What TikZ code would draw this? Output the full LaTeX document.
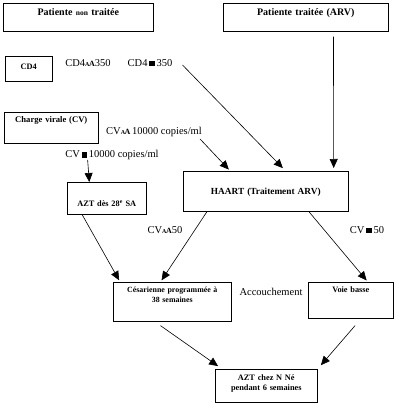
\documentclass[tikz,border=0pt]{standalone}
\usepackage{fontspec}
\setmainfont{Liberation Serif}
\usetikzlibrary{arrows.meta,calc,positioning}
\newcommand{\signehaut}{{\fontsize{6}{6}\selectfont\bfseries A}\kern-0.5pt{\fontsize{8}{8}\selectfont\bfseries A}}
\newcommand{\signecarre}{\,\rule{5.5pt}{5.5pt}\,}

\begin{document}
\begin{tikzpicture}[x=1pt,y=-1pt,
    boite/.style={draw, line width=0.6pt, anchor=north west, inner sep=0pt, align=center,
                  font=\fontsize{8.3}{10}\selectfont\bfseries},
    etiq/.style={inner sep=0pt, font=\fontsize{10.5}{12}\selectfont},
    fleche/.style={line width=0.6pt, -{Triangle[length=9pt,width=8pt]}},
    trait/.style={line width=0.6pt}]
	     \useasboundingbox (0,0) rectangle (400,409);

	     \node[boite, text width=150pt, text height=12.5pt, text depth=15.5pt, font=\fontsize{10}{11}\selectfont\bfseries] (pnt) at (3,3) {Patiente {\fontsize{7.5}{8}\selectfont non} traitée};
	     \node[boite, text width=165pt, text height=12.5pt, text depth=15.5pt, font=\fontsize{10}{11}\selectfont\bfseries] (pt) at (223,3) {Patiente traitée (ARV)};
	     \node[boite, text width=47pt, text height=13pt, text depth=12pt] (cd4) at (5,56) {CD4};
	     \node[boite, text width=94pt, text height=10pt, text depth=21pt, font=\fontsize{8.6}{10}\selectfont\bfseries] (cv) at (4,112) {Charge virale (CV)};
	     \node[boite, text width=79pt, text height=24pt, text depth=8pt] (azt) at (67,182) {AZT dès 28\textsuperscript{e} SA};
	     \node[boite, text width=165pt, text height=23pt, text depth=17pt, font=\fontsize{9.3}{10}\selectfont\bfseries] (haart) at (183,171) {HAART (Traitement ARV)};
	     \node[boite, text width=118pt, text height=10pt, text depth=29pt, font=\fontsize{7.9}{10}\selectfont\bfseries] (ces) at (113,282) {Césarienne programmée à\\38 semaines};
	     \node[boite, text width=85pt, text height=10pt, text depth=26pt] (voie) at (308,282) {Voie basse};
	     \node[boite, text width=102pt, text height=11pt, text depth=22pt] (aztnn) at (215,369) {AZT chez N Né\\pendant 6 semaines};

	     \node[etiq] (cd4a) at (88,63) {CD4\signehaut350};
	     \node[etiq] (cd4b) at (150,63) {CD4\signecarre350};
	     \node[etiq] (cva) at (154,132) {CV\signehaut\,10000 copies/ml};
	     \node[etiq] (cvb) at (112,155) {CV\signecarre10000 copies/ml};
	     \node[etiq] (cva50) at (165,230) {CV\signehaut50};
	     \node[etiq] (cvb50) at (367,230) {CV\signecarre50};
	     \node[etiq] (acc) at (271,292) {Accouchement};

	     \path[fleche]
	       ($(cvb.south west)!0.24!(cvb.south east)$) edge ($(azt.north west)!0.28!(azt.north east)$)
	       ($(cva.south east)+(-2,2)$) edge [shorten >=2pt] ($(haart.north west)!0.285!(haart.north east)$)
	       ($(cd4b.east)+(10,2)$) edge [shorten >=4pt] ($(haart.north west)!0.62!(haart.north east)$)
	       ($(pt.south west)!0.667!(pt.south east)+(0,5)$) edge [shorten >=3pt] ($(haart.north west)!0.91!(haart.north east)$)
	       ($(azt.south west)!0.19!(azt.south east)$) edge [shorten >=2pt] ($(ces.north west)!0.06!(ces.north east)$)
	       ($(haart.south west)!0.145!(haart.south east)$) edge [shorten >=2pt] ($(ces.north west)!0.4!(ces.north east)$)
	       ($(haart.south west)!0.76!(haart.south east)$) edge [shorten >=2pt] ($(voie.north west)!0.7!(voie.north east)$)
	       ($(ces.south west)!0.4!(ces.south east)+(0,4)$) edge [shorten >=5pt] ($(aztnn.north west)!0.07!(aztnn.north east)$)
	       ($(voie.south west)!0.55!(voie.south east)+(0,7)$) edge [shorten >=5pt] (aztnn.north east)
	     ;
\end{tikzpicture}
\end{document}
